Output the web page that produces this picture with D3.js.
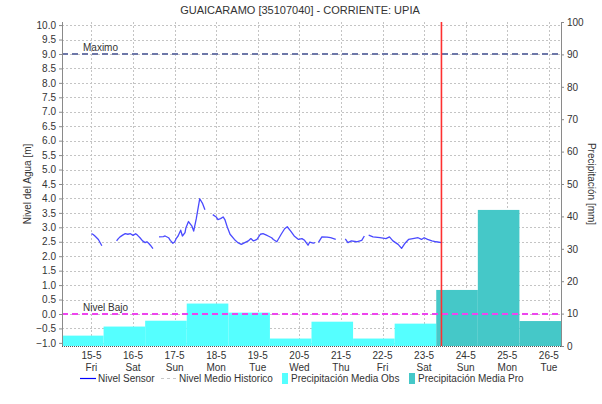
<!DOCTYPE html>
<html>
<head>
<meta charset="utf-8">
<script src="https://cdn.jsdelivr.net/npm/d3@7"></script>
<style>
  html, body { margin: 0; padding: 0; background: #fff; }
  svg { display: block; font-family: "Liberation Sans", Arial, sans-serif; }
</style>
</head>
<body>
<svg id="chart" width="602" height="404"></svg>
<script>
// Station and series labels
const chartTitle = "GUAICARAMO [35107040] - CORRIENTE: UPIA";
const leftAxisTitle = "Nivel del Agua [m]";
const rightAxisTitle = "Precipitación [mm]";
const seriesNames = ["Nivel Sensor", "Nivel Medio Historico", "Precipitación Media Obs", "Precipitación Media Pro"];

// Day tick labels (midnight of each day)
const dayTickDates = ["2020-05-15","2020-05-16","2020-05-17","2020-05-18","2020-05-19","2020-05-20",
                      "2020-05-21","2020-05-22","2020-05-23","2020-05-24","2020-05-25","2020-05-26"];
const dayTickLabels = ["15-5","16-5","17-5","18-5","19-5","20-5","21-5","22-5","23-5","24-5","25-5","26-5"];
const weekdayLabels = ["Fri","Sat","Sun","Mon","Tue","Wed","Thu","Fri","Sat","Sun","Mon","Tue"];

// Daily precipitation (07:00 to 07:00), observed and forecast
const obsPrecipStart = ["2020-05-14","2020-05-15","2020-05-16","2020-05-17","2020-05-18",
                        "2020-05-19","2020-05-20","2020-05-21","2020-05-22"];
const obsPrecipMm = [3.2, 6.0, 7.8, 13.1, 10.3, 2.3, 7.5, 2.3, 6.9];
const proPrecipStart = ["2020-05-23","2020-05-24","2020-05-25"];
const proPrecipMm = [17.3, 42.0, 7.7];

// Reference levels
const levelMax = 9.0;
const levelLow = 0.0;

// Current time marker
const nowTime = "2020-05-23T10:00";

// Sensor water level; null marks a gap in transmission
const sensorTimes = [
  "2020-05-15T00:00","2020-05-15T01:00","2020-05-15T02:00","2020-05-15T04:00","2020-05-15T06:00",
  "2020-05-15T10:00",
  "2020-05-15T14:30","2020-05-15T15:30","2020-05-15T16:30","2020-05-15T18:00","2020-05-15T19:30",
  "2020-05-15T21:00","2020-05-15T22:30","2020-05-16T00:00","2020-05-16T01:30","2020-05-16T02:30",
  "2020-05-16T04:00","2020-05-16T05:30","2020-05-16T07:00","2020-05-16T08:00","2020-05-16T09:00",
  "2020-05-16T10:00","2020-05-16T11:30",
  "2020-05-16T13:00",
  "2020-05-16T15:00","2020-05-16T17:30","2020-05-16T18:30","2020-05-16T20:30","2020-05-16T21:30",
  "2020-05-16T23:00","2020-05-17T00:00","2020-05-17T01:00","2020-05-17T02:00","2020-05-17T03:30",
  "2020-05-17T04:30","2020-05-17T06:00","2020-05-17T06:30","2020-05-17T08:00","2020-05-17T10:00",
  "2020-05-17T11:00","2020-05-17T12:30","2020-05-17T14:30","2020-05-17T16:00","2020-05-17T17:30",
  "2020-05-17T20:00",
  "2020-05-17T22:00","2020-05-18T00:00","2020-05-18T01:00","2020-05-18T02:30","2020-05-18T04:00",
  "2020-05-18T05:00","2020-05-18T06:30","2020-05-18T08:00","2020-05-18T10:30","2020-05-18T12:30",
  "2020-05-18T14:30","2020-05-18T16:30","2020-05-18T18:30","2020-05-18T20:00","2020-05-18T21:30",
  "2020-05-18T23:30","2020-05-19T01:30","2020-05-19T03:00","2020-05-19T05:00","2020-05-19T06:00",
  "2020-05-19T08:00","2020-05-19T09:00","2020-05-19T11:00","2020-05-19T13:30","2020-05-19T15:30",
  "2020-05-19T17:00","2020-05-19T19:00","2020-05-19T21:00","2020-05-19T23:30","2020-05-20T01:30",
  "2020-05-20T03:00","2020-05-20T05:00","2020-05-20T06:00","2020-05-20T08:00","2020-05-20T09:00",
  "2020-05-20T10:00",
  "2020-05-20T11:00","2020-05-20T13:00","2020-05-20T16:00","2020-05-20T18:00","2020-05-20T21:00",
  "2020-05-21T00:00",
  "2020-05-21T02:30","2020-05-21T04:00","2020-05-21T06:00","2020-05-21T09:00","2020-05-21T12:00",
  "2020-05-21T13:30",
  "2020-05-21T15:00",
  "2020-05-21T16:00","2020-05-21T18:30","2020-05-21T22:30","2020-05-22T02:00","2020-05-22T04:00",
  "2020-05-22T06:00","2020-05-22T09:00","2020-05-22T11:00","2020-05-22T13:00","2020-05-22T15:00",
  "2020-05-22T17:30","2020-05-22T20:30","2020-05-22T22:30","2020-05-23T00:00","2020-05-23T02:00",
  "2020-05-23T04:30","2020-05-23T07:00","2020-05-23T10:00"
];
const sensorLevels = [
  2.78, 2.75, 2.70, 2.58, 2.36,
  null,
  2.53, 2.61, 2.67, 2.73, 2.78,
  2.76, 2.78, 2.72, 2.78, 2.73,
  2.64, 2.53, 2.47, 2.50, 2.45,
  2.38, 2.26,
  null,
  2.67, 2.68, 2.70, 2.64, 2.55,
  2.45, 2.49, 2.62, 2.70, 2.90,
  2.70, 2.82, 2.98, 3.20, 3.04,
  2.87, 3.30, 3.99, 3.84, 3.61,
  null,
  3.44, 3.36, 3.27, 3.30, 3.36,
  3.27, 2.99, 2.76, 2.58, 2.47,
  2.41, 2.47, 2.53, 2.61, 2.53,
  2.58, 2.76, 2.78, 2.73, 2.70,
  2.64, 2.58, 2.50, 2.76, 2.95,
  3.02, 2.87, 2.70, 2.58, 2.61,
  2.55, 2.38, 2.49, 2.45, 2.47,
  null,
  2.48, 2.67, 2.66, 2.64, 2.58,
  null,
  2.60, 2.47, 2.53, 2.50, 2.55,
  2.70,
  null,
  2.73, 2.67, 2.64, 2.61, 2.67,
  2.53, 2.41, 2.27, 2.45, 2.58,
  2.61, 2.64, 2.58, 2.64, 2.58,
  2.53, 2.50, 2.47
];

// ---- layout ----
const svg = d3.select("#chart");
const plot = { left: 62, right: 561, top: 22, bottom: 346 };
const parse = s => new Date(s.length === 10 ? s + "T00:00" : s);
const addHours = (d, h) => new Date(d.getTime() + h * 3600e3);

const x = d3.scaleTime()
  .domain([new Date(2020, 4, 14, 7), new Date(2020, 4, 26, 7)])
  .range([plot.left, plot.right]);
const yL = d3.scaleLinear().domain([-1.108, 10.107]).range([plot.bottom, plot.top]);
const yR = d3.scaleLinear().domain([0, 100]).range([plot.bottom, plot.top]);

const gridColor = "#c4c4c4";
const axisColor = "#8a8a8a";
const textColor = "#333";

// title
svg.append("text").attr("x", 300).attr("y", 14).attr("text-anchor", "middle")
  .attr("font-size", 11).attr("fill", textColor).text(chartTitle);

// plot background
svg.append("rect").attr("x", plot.left).attr("y", plot.top)
  .attr("width", plot.right - plot.left).attr("height", plot.bottom - plot.top).attr("fill", "#fff");

// horizontal gridlines at left ticks
const leftTicks = d3.range(-2, 21).map(i => i * 0.5);
svg.append("g").selectAll("line").data(leftTicks).join("line")
  .attr("x1", plot.left).attr("x2", plot.right)
  .attr("y1", d => Math.round(yL(d)) + 0.5).attr("y2", d => Math.round(yL(d)) + 0.5)
  .attr("stroke", gridColor).attr("stroke-dasharray", "2,2");

// vertical gridlines at midnight
const dayDates = dayTickDates.map(parse);
svg.append("g").selectAll("line").data(dayDates).join("line")
  .attr("x1", d => Math.round(x(d)) + 0.5).attr("x2", d => Math.round(x(d)) + 0.5)
  .attr("y1", plot.top).attr("y2", plot.bottom)
  .attr("stroke", gridColor).attr("stroke-dasharray", "2,2");

// precipitation bars
const obsBars = obsPrecipStart.map((s, i) => ({ t0: addHours(parse(s), 7), v: obsPrecipMm[i] }));
const proBars = proPrecipStart.map((s, i) => ({ t0: addHours(parse(s), 7), v: proPrecipMm[i] }));
function drawBars(data, color) {
  svg.append("g").selectAll("rect").data(data).join("rect")
    .attr("x", d => x(d.t0))
    .attr("width", d => x(addHours(d.t0, 24)) - x(d.t0))
    .attr("y", d => yR(d.v))
    .attr("height", d => yR(0) - yR(d.v))
    .attr("fill", color);
}
drawBars(obsBars, "#55ffff");
drawBars(proBars, "#45c8c8");

// bottom edge
svg.append("line").attr("x1", plot.left).attr("x2", plot.right)
  .attr("y1", plot.bottom + 0.5).attr("y2", plot.bottom + 0.5)
  .attr("stroke", "#555").attr("stroke-dasharray", "1,1");

// reference levels
svg.append("line").attr("x1", plot.left).attr("x2", plot.right)
  .attr("y1", yL(levelMax)).attr("y2", yL(levelMax))
  .attr("stroke", "#6d77a8").attr("stroke-width", 2).attr("stroke-dasharray", "6,4");
svg.append("line").attr("x1", plot.left).attr("x2", plot.right)
  .attr("y1", yL(levelLow)).attr("y2", yL(levelLow))
  .attr("stroke", "#ee44ee").attr("stroke-width", 2).attr("stroke-dasharray", "6,4");
svg.append("text").attr("x", 83).attr("y", yL(levelMax) - 3)
  .attr("font-size", 10).attr("fill", textColor).text("Maximo");
svg.append("text").attr("x", 83).attr("y", yL(levelLow) - 3)
  .attr("font-size", 10).attr("fill", textColor).text("Nivel Bajo");

// sensor line
const sensor = sensorTimes.map((t, i) => ({ t: parse(t), v: sensorLevels[i] }));
const line = d3.line().defined(d => d.v !== null).x(d => x(d.t)).y(d => yL(d.v));
svg.append("path").datum(sensor).attr("d", line)
  .attr("fill", "none").attr("stroke", "#4a4aff").attr("stroke-width", 1.3)
  .attr("stroke-linejoin", "round");

// current time marker
const nowX = x(parse(nowTime));
svg.append("line").attr("x1", nowX).attr("x2", nowX)
  .attr("y1", plot.top).attr("y2", plot.bottom)
  .attr("stroke", "#ff3030").attr("stroke-width", 1.6);

// left axis
const gL = svg.append("g").attr("transform", `translate(${plot.left},0)`)
  .call(d3.axisLeft(yL).tickValues(leftTicks).tickFormat(d3.format(".1f")).tickSize(3).tickPadding(3));
gL.select(".domain").attr("stroke", axisColor).attr("d", `M0.5,${plot.top}V${plot.bottom}`);
gL.selectAll(".tick line").attr("stroke", axisColor);
gL.selectAll("text").attr("font-size", 10).attr("fill", textColor)
  .attr("font-family", "'Liberation Sans', Arial, sans-serif");

// right axis
const gR = svg.append("g").attr("transform", `translate(${plot.right},0)`)
  .call(d3.axisRight(yR).tickValues(d3.range(0, 101, 10)).tickSize(3).tickPadding(3));
gR.select(".domain").attr("stroke", axisColor).attr("d", `M0.5,${plot.top}V${plot.bottom}`);
gR.selectAll(".tick line").attr("stroke", axisColor);
gR.selectAll("text").attr("font-size", 10).attr("fill", textColor)
  .attr("font-family", "'Liberation Sans', Arial, sans-serif");

// x axis labels (date and weekday)
const gX = svg.append("g");
gX.selectAll("text.d").data(dayDates).join("text").attr("class", "d")
  .attr("x", d => x(d)).attr("y", 359).attr("text-anchor", "middle")
  .attr("font-size", 10).attr("fill", textColor).text((d, i) => dayTickLabels[i]);
gX.selectAll("text.w").data(dayDates).join("text").attr("class", "w")
  .attr("x", d => x(d)).attr("y", 371).attr("text-anchor", "middle")
  .attr("font-size", 10).attr("fill", textColor).text((d, i) => weekdayLabels[i]);

// axis titles
svg.append("text").attr("transform", "translate(31,184) rotate(-90)")
  .attr("text-anchor", "middle").attr("font-size", 10).attr("fill", textColor).text(leftAxisTitle);
svg.append("text").attr("transform", "translate(588,184) rotate(90)")
  .attr("text-anchor", "middle").attr("font-size", 10).attr("fill", textColor).text(rightAxisTitle);

// legend
const lg = svg.append("g").attr("font-size", 10).attr("fill", textColor);
lg.append("line").attr("x1", 80).attr("x2", 96).attr("y1", 378.5).attr("y2", 378.5)
  .attr("stroke", "#0000ff").attr("stroke-width", 1.2);
lg.append("text").attr("x", 98).attr("y", 382).text(seriesNames[0]);
lg.append("line").attr("x1", 161).attr("x2", 176).attr("y1", 378.5).attr("y2", 378.5)
  .attr("stroke", "#c8c8c8").attr("stroke-width", 1.2).attr("stroke-dasharray", "3,3");
lg.append("text").attr("x", 179).attr("y", 382).text(seriesNames[1]);
lg.append("rect").attr("x", 282).attr("y", 373).attr("width", 6).attr("height", 11).attr("fill", "#55ffff");
lg.append("text").attr("x", 291).attr("y", 382).text(seriesNames[2]);
lg.append("rect").attr("x", 409).attr("y", 373).attr("width", 6).attr("height", 11).attr("fill", "#45c8c8");
lg.append("text").attr("x", 418).attr("y", 382).text(seriesNames[3]);
</script>
</body>
</html>
